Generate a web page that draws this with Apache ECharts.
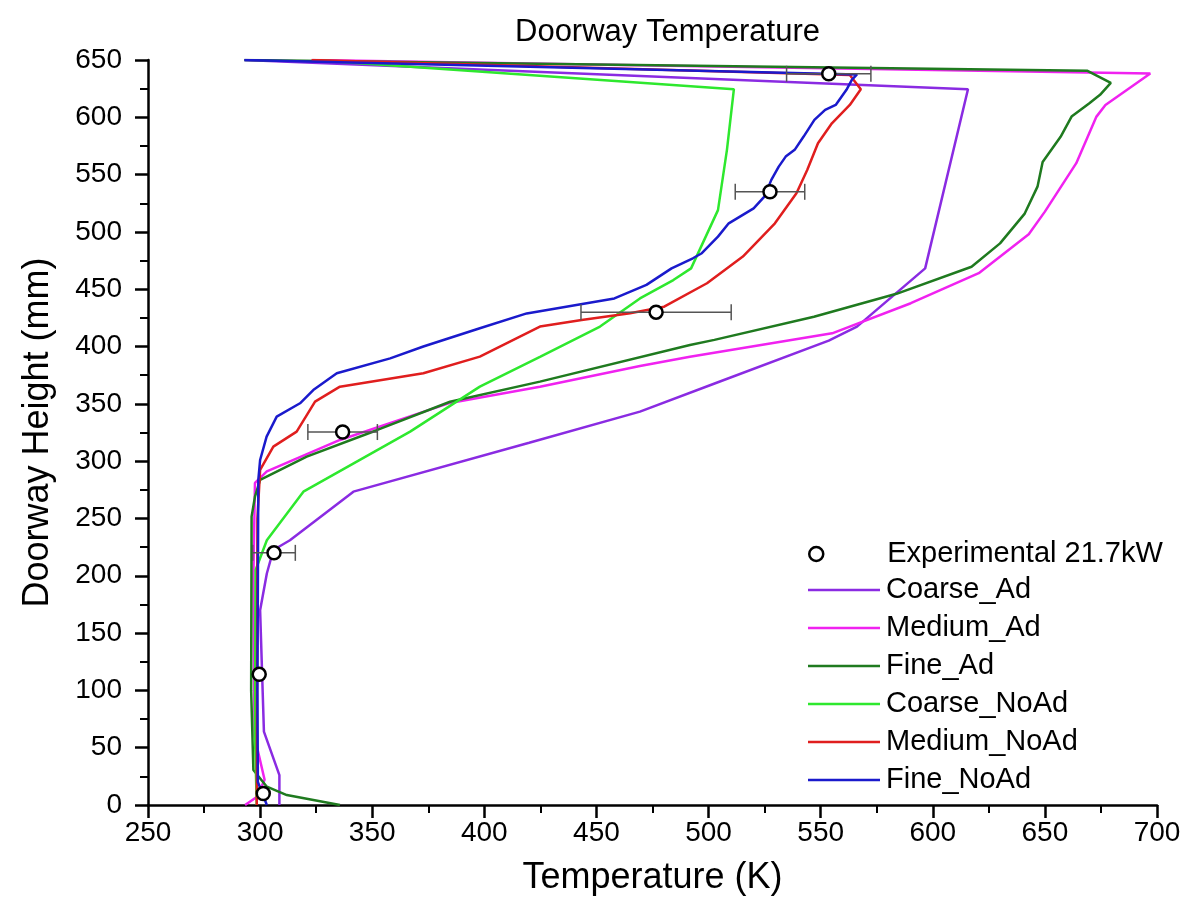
<!DOCTYPE html>
<html>
<head>
<meta charset="utf-8">
<script src="https://cdn.jsdelivr.net/npm/echarts@6/dist/echarts.min.js"></script>
<style>
html,body{margin:0;padding:0;background:#fff;}
#chart{width:1193px;height:924px;}
</style>
</head>
<body>
<div id="chart"></div>
<script>
// ---- Data ----
const seriesNames = ['Coarse_Ad', 'Medium_Ad', 'Fine_Ad', 'Coarse_NoAd', 'Medium_NoAd', 'Fine_NoAd'];
const expName = 'Experimental 21.7kW';

// Experimental points (temperature K, height mm, +/- error K)
const expT   = [553.6, 527.4, 476.6, 336.8, 306.2, 299.6, 301.4];
const expH   = [638, 535, 430, 325.4, 220, 114, 10];
const expErr = [18.8, 15.5, 33.5, 15.5, 9.5, 0, 0];

// Coarse_Ad
const coarseAdT = [293, 615.7, 596.6, 566.2, 553.6, 503, 469.4, 420, 341.6, 313.3, 305.9, 303, 300, 301.7, 308.6, 308.6];
const coarseAdH = [650, 624.5, 468.2, 417.4, 405.2, 368, 343.2, 316, 273.4, 231, 222.5, 202, 170, 64, 26, 0];

// Medium_Ad
const mediumAdT = [323, 697, 677, 673, 664, 650, 642.8, 620.5, 590.2, 555.1, 491.7, 469.4, 424.8, 384.7, 335.6, 303, 297.7, 297, 297.5, 302, 298.5, 293.3];
const mediumAdH = [650, 638.3, 610.8, 600.6, 560, 517.7, 498, 464, 437.8, 411.5, 391, 383, 365, 350.8, 318.5, 291, 281, 200, 60, 22, 7, 0];

// Fine_Ad
const fineAdT = [293, 669, 679.4, 674.6, 669.7, 661.9, 657, 649, 646.7, 641, 630, 617.3, 583.8, 547, 502.6, 491.7, 424.8, 384.7, 352, 320.8, 300, 297.7, 296.2, 296, 297, 303, 311.9, 335.6];
const fineAdH = [650, 640.6, 630, 619.6, 612, 600.6, 583, 561, 539.5, 516, 490, 469.6, 446, 426, 405.8, 401.4, 369.4, 351.8, 327, 304, 283.6, 269, 251.6, 100, 30.5, 16, 8.7, 0];

// Coarse_NoAd
const coarseNoAdT = [323.7, 511.3, 508.2, 504.2, 492.2, 484.3, 469.4, 451.6, 424.8, 398, 366.9, 319.3, 303, 298, 297.7, 298.5];
const coarseNoAdH = [650, 624.5, 571.6, 519, 468.2, 458, 442, 417.4, 391, 365, 325.8, 273.4, 231, 205, 60, 0];

// Medium_NoAd
const mediumNoAdT = [323, 563, 567.9, 563, 555, 548.8, 544, 539.2, 529.6, 515.3, 499.3, 480.2, 465, 443.4, 424.8, 398, 372.8, 335.6, 324.5, 316.3, 305.9, 300, 298.8, 298.5];
const mediumNoAdH = [650, 637, 624.5, 610.8, 594.8, 577.4, 554, 533.7, 507.5, 478.5, 455.2, 434.8, 429, 423.2, 417.4, 391.2, 376.7, 365, 352, 325.8, 312.7, 292.3, 250, 0];

// Fine_NoAd
const fineNoAdT = [293, 566.2, 563.9, 561.5, 556.7, 552, 547.2, 542.4, 538.4, 534.4, 531.3, 528, 524.9, 520.1, 509, 504.2, 497, 493, 483.5, 472.3, 458, 418.9, 398, 372.8, 358, 334.2, 323.7, 317.8, 307.4, 302.9, 300, 299.2, 298.8, 299, 303];
const fineNoAdH = [650, 637.4, 632.6, 624, 610.8, 606.5, 597.7, 583.2, 571.6, 565.7, 557, 545.4, 530.8, 520.6, 507.5, 495.9, 481.4, 477, 468.2, 453.8, 442, 428.9, 416, 400, 389.7, 376.7, 362, 350.5, 338.8, 321.4, 301, 283.6, 100, 20, 0];

const lineT = [coarseAdT, mediumAdT, fineAdT, coarseNoAdT, mediumNoAdT, fineNoAdT];
const lineH = [coarseAdH, mediumAdH, fineAdH, coarseNoAdH, mediumNoAdH, fineNoAdH];
const lineColors = ['#8A2BE2', '#F022F0', '#1F7A1F', '#2EE82E', '#E01E1E', '#1A1ACC'];

const FONT = '"Liberation Sans", Arial, sans-serif';

const pair = (a, b) => a.map((v, i) => [v, b[i]]);

const lineSeries = seriesNames.map((name, k) => ({
  name: name,
  type: 'line',
  data: pair(lineT[k], lineH[k]),
  symbol: 'none',
  showSymbol: false,
  lineStyle: { color: lineColors[k], width: 2.5 },
  itemStyle: { color: lineColors[k] },
  z: 2,
  animation: false
}));

const chart = echarts.init(document.getElementById('chart'), null, { renderer: 'canvas' });

const option = {
  backgroundColor: '#ffffff',
  animation: false,
  title: {
    text: 'Doorway Temperature',
    left: 510,
    top: 12,
    textStyle: { fontFamily: FONT, fontSize: 31, fontWeight: 'normal', color: '#000' }
  },
  grid: { left: 148, right: 36, top: 60, bottom: 119, containLabel: false },
  xAxis: {
    type: 'value',
    min: 250, max: 700, interval: 50,
    name: 'Temperature (K)',
    nameLocation: 'middle',
    nameGap: 55,
    nameTextStyle: { fontFamily: FONT, fontSize: 36, color: '#000' },
    axisLine: { show: true, onZero: false, lineStyle: { color: '#000', width: 2.5 } },
    axisTick: { show: true, inside: false, length: 13, lineStyle: { color: '#000', width: 2.5 } },
    minorTick: { show: true, splitNumber: 2, length: 8, lineStyle: { color: '#000', width: 2 } },
    splitLine: { show: false },
    axisLabel: { fontFamily: FONT, fontSize: 28, color: '#000', margin: 14 }
  },
  yAxis: {
    type: 'value',
    min: 0, max: 650, interval: 50,
    name: 'Doorway Height (mm)',
    nameLocation: 'middle',
    nameGap: 92,
    nameTextStyle: { fontFamily: FONT, fontSize: 36, color: '#000' },
    axisLine: { show: true, onZero: false, lineStyle: { color: '#000', width: 2.5 } },
    axisTick: { show: true, inside: false, length: 13, lineStyle: { color: '#000', width: 2.5 } },
    minorTick: { show: true, splitNumber: 2, length: 8, lineStyle: { color: '#000', width: 2 } },
    splitLine: { show: false },
    axisLabel: { fontFamily: FONT, fontSize: 28, color: '#000', margin: 26 }
  },
  legend: [
    {
      data: [expName],
      orient: 'vertical',
      left: 803, top: 534,
      itemWidth: 14, itemHeight: 14,
      itemStyle: { color: '#ffffff', borderColor: '#000', borderWidth: 2.5, opacity: 1 },
      textStyle: { fontFamily: FONT, fontSize: 29, color: '#000', lineHeight: 30, padding: [0, 0, 0, 59] },
      selectedMode: false
    },
    {
      data: seriesNames,
      orient: 'vertical',
      left: 803, top: 570,
      icon: 'rect',
      itemWidth: 72, itemHeight: 2.5,
      itemGap: 8,
      textStyle: { fontFamily: FONT, fontSize: 29, color: '#000', lineHeight: 30, padding: [0, 0, 0, 1] },
      selectedMode: false
    }
  ],
  series: lineSeries.concat([
    {
      name: 'errbars',
      type: 'custom',
      data: expT.map((t, i) => [t, expH[i], expErr[i]]),
      renderItem: function (params, api) {
        const t = api.value(0), h = api.value(1), e = api.value(2);
        if (!e) return null;
        const l = api.coord([t - e, h]);
        const r = api.coord([t + e, h]);
        const c = 8;
        const st = { stroke: '#555', lineWidth: 1.5 };
        return {
          type: 'group',
          children: [
            { type: 'line', shape: { x1: l[0], y1: l[1], x2: r[0], y2: r[1] }, style: st },
            { type: 'line', shape: { x1: l[0], y1: l[1] - c, x2: l[0], y2: l[1] + c }, style: st },
            { type: 'line', shape: { x1: r[0], y1: r[1] - c, x2: r[0], y2: r[1] + c }, style: st }
          ]
        };
      },
      z: 3,
      silent: true
    },
    {
      name: expName,
      type: 'scatter',
      data: pair(expT, expH),
      symbol: 'circle',
      symbolSize: 13,
      itemStyle: { color: '#ffffff', borderColor: '#000', borderWidth: 2.5, opacity: 1 },
      z: 4
    }
  ])
};

chart.setOption(option);
</script>
</body>
</html>
